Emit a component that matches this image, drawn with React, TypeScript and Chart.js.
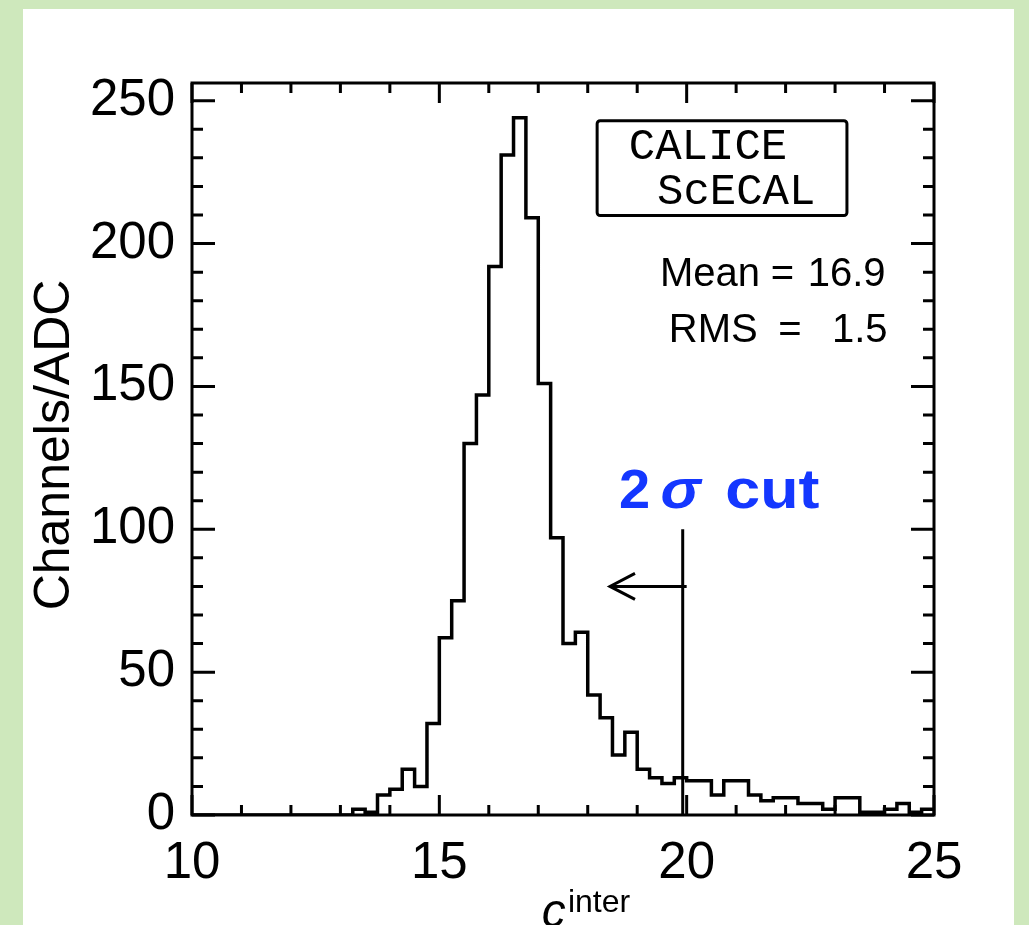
import React, { useEffect, useRef } from 'react';
import { Chart, registerables } from 'chart.js';

Chart.register(...registerables);

// Histogram definition
const xMin = 10;
const xMax = 25;
const binWidth = 0.25;
// counts per 0.25-wide bin from 10 to 25
const counts = [
  0, 0, 0, 0, 0, 0, 0, 0, 0, 0, 0, 0, 0, 2, 1, 7, 9, 16, 10, 32,
  62, 75, 130, 147, 192, 231, 244, 209, 151, 97, 60, 64, 42, 34, 21, 29, 16, 13, 11, 13,
  12, 12, 7, 12, 12, 7, 5, 6, 6, 4, 4, 2, 6, 6, 1, 1, 2, 4, 1, 2,
];
const yMax = 256.2;

const xMajorTicks = [10, 15, 20, 25];
const xMinorTicks = [10, 11, 12, 13, 14, 15, 16, 17, 18, 19, 20, 21, 22, 23, 24, 25];
const yMajorTicks = [0, 50, 100, 150, 200, 250];
const yMinorTicks = [0, 10, 20, 30, 40, 50, 60, 70, 80, 90, 100, 110, 120, 130, 140, 150, 160, 170, 180, 190, 200, 210, 220, 230, 240, 250];

// Annotations (data coordinates)
const cutX = 19.92;
const cutTop = 100;
const arrowY = 80;
const arrowFrom = 20.0;
const arrowTo = 18.45;
const statNames = ['Mean', 'RMS'];
const statValues = ['16.9', '1.5'];
const labelLines = ['CALICE', 'ScECAL'];

const SANS = '"Liberation Sans", Arial, Helvetica, sans-serif';
const MONO = '"Liberation Mono", "Courier New", monospace';

const framePlugin = {
  id: 'rootFrame',
  afterDatasetsDraw(chart: any) {
    const { ctx, chartArea, scales } = chart;
    const { left, right, top, bottom } = chartArea;
    const xs = scales.x;
    const ys = scales.y;
    ctx.save();
    ctx.strokeStyle = '#000';
    ctx.fillStyle = '#000';
    ctx.lineCap = 'butt';

    // frame
    ctx.lineWidth = 3;
    ctx.strokeRect(left, top, right - left, bottom - top);

    // ticks (inside)
    ctx.lineWidth = 3;
    ctx.beginPath();
    xMinorTicks.forEach((v) => {
      const px = xs.getPixelForValue(v);
      const len = xMajorTicks.includes(v) ? 20 : 10;
      ctx.moveTo(px, bottom);
      ctx.lineTo(px, bottom - len);
      ctx.moveTo(px, top);
      ctx.lineTo(px, top + len);
    });
    yMinorTicks.forEach((v) => {
      const py = ys.getPixelForValue(v);
      const len = yMajorTicks.includes(v) ? 23 : 11;
      ctx.moveTo(left, py);
      ctx.lineTo(left + len, py);
      ctx.moveTo(right, py);
      ctx.lineTo(right - len, py);
    });
    ctx.stroke();

    // cut line
    ctx.lineWidth = 3;
    ctx.beginPath();
    ctx.moveTo(xs.getPixelForValue(cutX), ys.getPixelForValue(cutTop));
    ctx.lineTo(xs.getPixelForValue(cutX), ys.getPixelForValue(0));
    ctx.stroke();

    // arrow
    const ay = ys.getPixelForValue(arrowY);
    const ax0 = xs.getPixelForValue(arrowFrom);
    const ax1 = xs.getPixelForValue(arrowTo);
    ctx.beginPath();
    ctx.moveTo(ax0, ay);
    ctx.lineTo(ax1, ay);
    ctx.moveTo(ax1 + 25, ay - 13);
    ctx.lineTo(ax1, ay);
    ctx.lineTo(ax1 + 25, ay + 13);
    ctx.stroke();

    // CALICE box
    const bx0 = xs.getPixelForValue(18.19);
    const bx1 = xs.getPixelForValue(23.24);
    const by0 = ys.getPixelForValue(243);
    const by1 = ys.getPixelForValue(209.8);
    ctx.lineWidth = 3;
    ctx.beginPath();
    if (ctx.roundRect) ctx.roundRect(bx0, by0, bx1 - bx0, by1 - by0, 3);
    else ctx.rect(bx0, by0, bx1 - bx0, by1 - by0);
    ctx.stroke();

    ctx.font = `44px ${MONO}`;
    ctx.textAlign = 'left';
    ctx.textBaseline = 'alphabetic';
    ctx.fillText(labelLines[0], xs.getPixelForValue(18.83), ys.getPixelForValue(229.7));
    ctx.fillText(labelLines[1], xs.getPixelForValue(19.40), ys.getPixelForValue(214));

    // stats
    ctx.font = `40px ${SANS}`;
    const meanY = ys.getPixelForValue(185.3);
    const rmsY = ys.getPixelForValue(165.5);
    ctx.textAlign = 'left';
    ctx.fillText(statNames[0], xs.getPixelForValue(19.46), meanY);
    ctx.fillText('=', xs.getPixelForValue(21.70), meanY);
    ctx.fillText(statNames[1], xs.getPixelForValue(19.64), rmsY);
    ctx.fillText('=', xs.getPixelForValue(21.85), rmsY);
    ctx.textAlign = 'right';
    ctx.fillText(statValues[0], xs.getPixelForValue(24.02), meanY);
    ctx.fillText(statValues[1], xs.getPixelForValue(24.06), rmsY);

    // 2 sigma cut
    ctx.fillStyle = '#1437ff';
    ctx.textAlign = 'left';
    const cy = ys.getPixelForValue(107.3);
    ctx.font = `bold 56px ${SANS}`;
    ctx.fillText('2', xs.getPixelForValue(18.63), cy);
    ctx.font = `italic bold 56px ${SANS}`;
    ctx.save();
    ctx.translate(xs.getPixelForValue(19.47), cy);
    ctx.scale(1.08, 1);
    ctx.fillText('σ', 0, 0);
    ctx.restore();
    ctx.font = `bold 56px ${SANS}`;
    ctx.save();
    ctx.translate(xs.getPixelForValue(20.78), cy);
    ctx.scale(1.12, 1);
    ctx.fillText('cut', 0, 0);
    ctx.restore();

    // axis titles
    ctx.fillStyle = '#000';
    ctx.font = `italic 48px ${SANS}`;
    ctx.textAlign = 'left';
    ctx.fillText('c', xs.getPixelForValue(17.07), bottom + 112);
    ctx.font = `32px ${SANS}`;
    ctx.fillText('inter', xs.getPixelForValue(17.6), bottom + 97);

    ctx.save();
    ctx.translate(46, (top + bottom) / 2 - 4);
    ctx.rotate(-Math.PI / 2);
    ctx.font = `50px ${SANS}`;
    ctx.textAlign = 'center';
    ctx.textBaseline = 'alphabetic';
    ctx.fillText('Channels/ADC', 0, 0);
    ctx.restore();

    ctx.restore();
  },
};

export default function App() {
  const canvasRef = useRef<HTMLCanvasElement | null>(null);

  useEffect(() => {
    const canvas = canvasRef.current;
    if (!canvas) return;
    const points = counts.map((c, i) => ({ x: xMin + i * binWidth, y: c }));
    points.push({ x: xMax, y: counts[counts.length - 1] });

    const chart = new Chart(canvas, {
      type: 'line',
      data: {
        datasets: [
          {
            data: points,
            stepped: 'before',
            borderColor: '#000',
            borderWidth: 3.5,
            pointRadius: 0,
            fill: false,
            tension: 0,
          } as any,
        ],
      },
      options: {
        animation: false,
        responsive: false,
        maintainAspectRatio: false,
        devicePixelRatio: 1,
        layout: { padding: { top: 74, right: 80, left: 0, bottom: 0 } },
        plugins: {
          legend: { display: false },
          tooltip: { enabled: false },
          title: { display: false },
        },
        scales: {
          x: {
            type: 'linear',
            min: xMin,
            max: xMax,
            grid: { display: false, drawTicks: false },
            border: { display: false },
            ticks: {
              color: '#000',
              font: { family: SANS, size: 51 },
              padding: 18,
              maxRotation: 0,
              autoSkip: false,
            },
            afterBuildTicks: (s: any) => {
              s.ticks = xMajorTicks.map((v) => ({ value: v }));
            },
            afterFit: (s: any) => {
              s.height = 110;
            },
          },
          y: {
            type: 'linear',
            min: 0,
            max: yMax,
            grid: { display: false, drawTicks: false },
            border: { display: false },
            ticks: {
              color: '#000',
              font: { family: SANS, size: 51 },
              padding: 17,
              autoSkip: false,
            },
            afterBuildTicks: (s: any) => {
              s.ticks = yMajorTicks.map((v) => ({ value: v }));
            },
            afterFit: (s: any) => {
              s.width = 169;
            },
          },
        },
      } as any,
      plugins: [framePlugin],
    });
    return () => chart.destroy();
  }, []);

  return (
    <div
      style={{
        position: 'fixed',
        left: 0,
        top: 0,
        width: 1029,
        height: 925,
        background: '#cee8bc',
        overflow: 'hidden',
      }}
    >
      <div
        style={{
          position: 'absolute',
          left: 23,
          top: 9,
          width: 991,
          height: 916,
          background: '#ffffff',
        }}
      >
        <canvas
          ref={canvasRef}
          width={991}
          height={916}
          style={{ display: 'block', width: 991, height: 916 }}
        />
      </div>
    </div>
  );
}
